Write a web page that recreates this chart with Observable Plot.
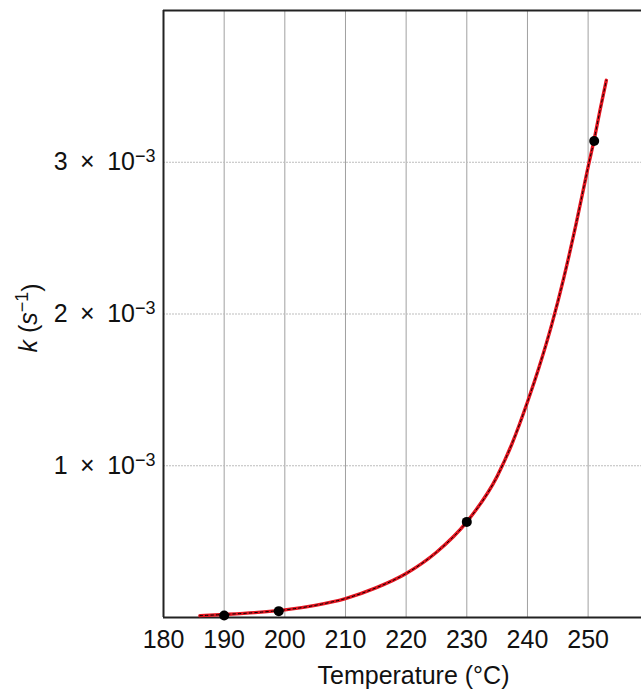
<!DOCTYPE html>
<html><head><meta charset="utf-8">
<script src="https://cdn.jsdelivr.net/npm/d3@7"></script>
<script src="https://cdn.jsdelivr.net/npm/@observablehq/plot@0.6"></script>
<style>body{margin:0;background:#fff}</style>
</head><body><div id="chart"></div>
<script>
// Fitted curve (k in units of 10^-3 s^-1)
const curveTemp = [186, 190, 195, 200, 205, 210, 215, 220, 225, 230, 235, 237.5, 240, 242, 244, 246, 248, 250, 251, 252, 253];
const curveK = [0.012, 0.02, 0.032, 0.05, 0.08, 0.125, 0.195, 0.29, 0.43, 0.63, 0.93, 1.15, 1.42, 1.66, 1.93, 2.24, 2.59, 2.97, 3.15, 3.35, 3.54];
// Measured points
const pointTemp = [190, 199, 230, 251];
const pointK = [0.013, 0.042, 0.63, 3.14];
// Ticks
const xTicks = [180, 190, 200, 210, 220, 230, 240, 250];
const yTicks = [1, 2, 3];

const curve = curveTemp.map((t, i) => ({t, k: curveK[i]}));
const pts = pointTemp.map((t, i) => ({t, k: pointK[i]}));

const chart = Plot.plot({
  width: 641, height: 691,
  marginLeft: 163, marginRight: 0, marginTop: 10, marginBottom: 74,
  style: {fontFamily: "'Liberation Sans', Arial, sans-serif", fontSize: "25px", color: "#111", background: "#fff"},
  x: {domain: [180, 258.8], label: null},
  y: {domain: [0, 4], label: null},
  marks: [
    Plot.gridX(xTicks.slice(1), {stroke: "#a0a0a0", strokeOpacity: 1, strokeWidth: 1}),
    Plot.gridY(yTicks, {stroke: "#bdbdbd", strokeOpacity: 1, strokeDasharray: "2,1"}),
    Plot.axisX(xTicks, {tickSize: 0, tickPadding: 13, fontSize: 25, label: null}),
    Plot.axisY(yTicks, {tickSize: 0, tickPadding: 8, fontSize: 25, label: null, tickFormat: d => `${d}\u2002×\u200210−3`}),
    Plot.ruleX([180], {stroke: "#222", strokeWidth: 2}),
    Plot.ruleY([0], {stroke: "#222", strokeWidth: 2}),
    Plot.ruleY([4], {stroke: "#222", strokeWidth: 2}),
    Plot.line(curve, {x: "t", y: "k", stroke: "#e3141f", strokeWidth: 3.4, curve: "monotone-x"}),
    Plot.line(curve, {x: "t", y: "k", stroke: "#000", strokeWidth: 1, strokeDasharray: "2.5,3", curve: "monotone-x"}),
    Plot.dot(pts, {x: "t", y: "k", r: 5, fill: "#000", stroke: "none"}),
    Plot.text(["Temperature (°C)"], {frameAnchor: "bottom", textAnchor: "middle", lineAnchor: "middle", dx: 11, dy: 58, fontSize: 25, fill: "#111"}),
    Plot.text(["k (s−1)"], {frameAnchor: "left", textAnchor: "middle", lineAnchor: "middle", rotate: -90, dx: -135, dy: 4, fontSize: 25, fill: "#111"})
  ]
});
document.getElementById("chart").append(chart);

// Superscripts / italics
d3.select(chart).selectAll("text").each(function() {
  const t = this.textContent;
  const sel = d3.select(this);
  if (/10−3$/.test(t)) {
    sel.text(null);
    sel.append("tspan").text(t.replace("−3", ""));
    sel.append("tspan").attr("dy", "-0.45em").attr("font-size", "18px").text("−3");
  } else if (t === "k (s−1)") {
    sel.text(null);
    sel.append("tspan").attr("font-style", "italic").text("k");
    sel.append("tspan").text(" (");
    sel.append("tspan").attr("font-style", "italic").text("s");
    sel.append("tspan").attr("dy", "-0.45em").attr("font-size", "18px").text("−1");
    sel.append("tspan").attr("dy", "0.45em").text(")");
  }
});
</script>
</body></html>
